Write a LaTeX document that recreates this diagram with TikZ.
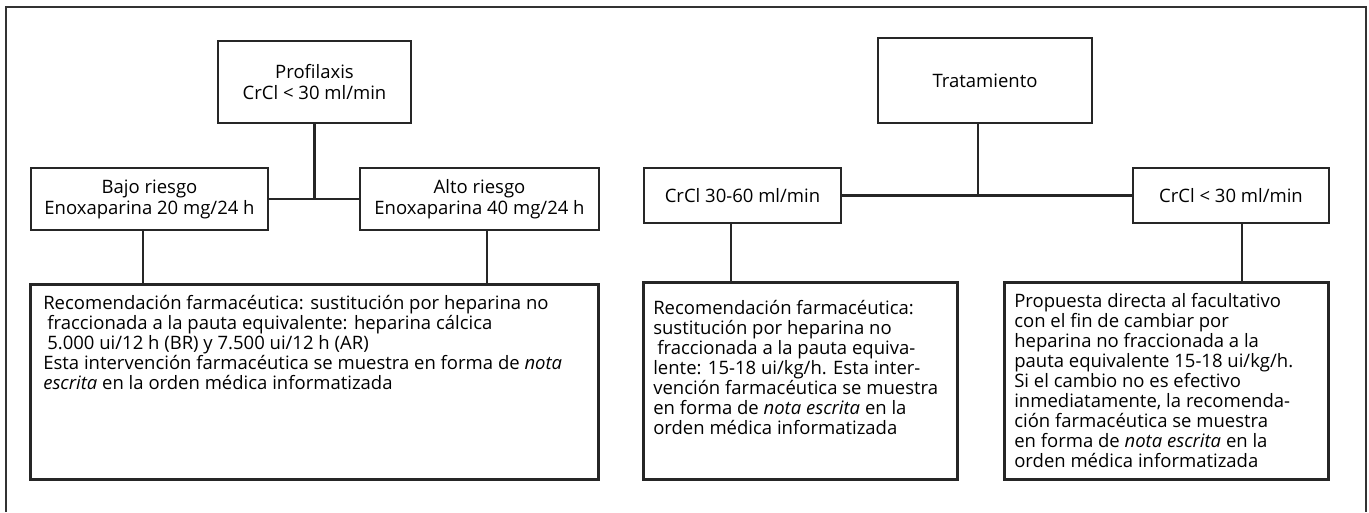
\documentclass[tikz,border=0pt]{standalone}
\usepackage{fontspec}
\setmainfont{Open Sans}
\usetikzlibrary{positioning}
\tikzset{
  caja/.style={draw=black!85, line width=2.6pt, align=center, inner sep=0pt,
    font=\fontsize{18.5}{21}\selectfont},
  nota/.style={draw=black!85, line width=2.6pt, anchor=north west, inner ysep=11pt,
    font=\fontsize{18.5}{20}\selectfont},
  enlace/.style={black!85, line width=2.4pt},
}
\begin{document}
\begin{tikzpicture}[x=1pt,y=-1pt]
        \useasboundingbox (0,0) rectangle (1369,512);
        \draw[black!80, line width=1.2pt] (6,512) -- (6,7) -- (1366,7) -- (1366,512);
        % profilaxis
        \node[caja, minimum width=193pt, minimum height=82pt] (prof) at (314.5,82) {Profilaxis\\CrCl < 30 ml/min};
        \node[caja, minimum width=237pt, minimum height=62pt] (bajo) at (149.5,199) {Bajo riesgo\\Enoxaparina 20 mg/24 h};
        \node[caja, minimum width=239pt, minimum height=62pt] (alto) at (479.5,199) {Alto riesgo\\Enoxaparina 40 mg/24 h};
        \node[nota, inner xsep=13pt] (recprof) at (29,283) {\parbox[c][173pt][t]{542pt}{\raggedright
            Recomendación farmacéutica: sustitución por heparina no\\
            \hspace*{4pt}fraccionada a la pauta equivalente: heparina cálcica\\
            \hspace*{4pt}5.000 ui/12 h (BR) y 7.500 ui/12 h (AR)\\
            Esta intervención farmacéutica se muestra en forma de \textit{nota}\\
            \textit{escrita} en la orden médica informatizada}};
        % tratamiento
        \node[caja, minimum width=214pt, minimum height=85pt] (trat) at (985,80.5) {Tratamiento};
        \node[caja, minimum width=197pt, minimum height=55pt] (crcla) at (742.5,195.5) {CrCl 30-60 ml/min};
        \node[caja, minimum width=196pt, minimum height=55pt] (crclb) at (1231,195.5) {CrCl < 30 ml/min};
        \node[nota, inner xsep=10pt] (recmed) at (642,281) {\parbox[c][175pt][t]{294pt}{\raggedright\vspace*{7pt}
            Recomendación farmacéutica:\\
            sustitución por heparina no\\
            \hspace*{4pt}fraccionada a la pauta equiva-\\
            lente: 15-18 ui/kg/h. Esta inter-\\
            vención farmacéutica se muestra\\
            en forma de \textit{nota escrita} en la\\
            orden médica informatizada}};
        \node[nota, inner xsep=10pt] (recder) at (1003,281) {\parbox[c][175pt][t]{304pt}{\raggedright
            Propuesta directa al facultativo\\
            con el fin de cambiar por\\
            heparina no fraccionada a la\\
            pauta equivalente 15-18 ui/kg/h.\\
            Si el cambio no es efectivo\\
            inmediatamente, la recomenda-\\
            ción farmacéutica se muestra\\
            en forma de \textit{nota escrita} en la\\
            orden médica informatizada}};
        % conectores
        \draw[enlace] (prof.south) -- (prof.south |- bajo.east);
        \draw[enlace] (bajo.east) -- (alto.west);
        \draw[enlace] ([xshift=-6.5pt]bajo.south) -- ([xshift=-6.5pt]bajo.south |- recprof.north);
        \draw[enlace] ([xshift=7.5pt]alto.south) -- ([xshift=7.5pt]alto.south |- recprof.north);
        \draw[enlace] ([xshift=-7pt]trat.south) -- ([xshift=-7pt]trat.south |- crcla.east);
        \draw[enlace] (crcla.east) -- (crclb.west);
        \draw[enlace] ([xshift=-11.5pt]crcla.south) -- ([xshift=-11.5pt]crcla.south |- recmed.north);
        \draw[enlace] ([xshift=11pt]crclb.south) -- ([xshift=11pt]crclb.south |- recder.north);
\end{tikzpicture}
\end{document}
